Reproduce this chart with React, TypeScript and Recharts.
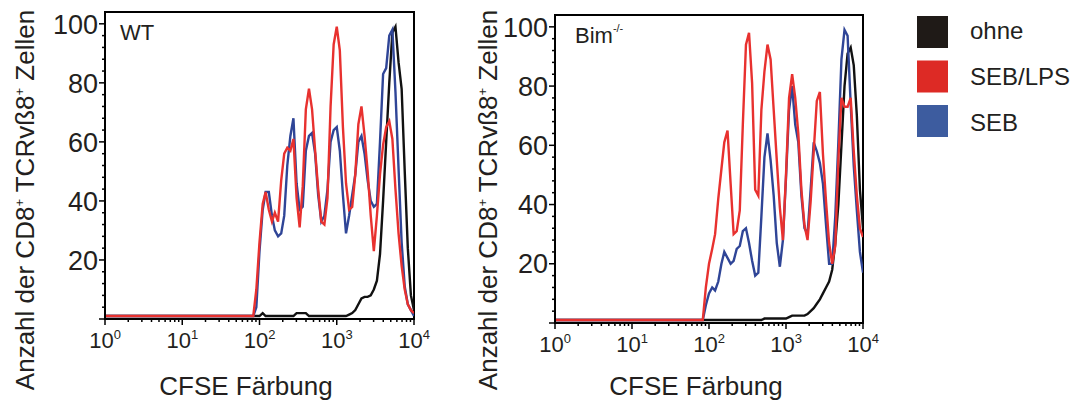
import { LineChart, Line, XAxis, YAxis, ReferenceArea } from 'recharts';

// CFSE channel (log scale), shared by both panels
const channels = [
  1, 83, 91, 100, 110, 120, 132, 145, 158, 174, 191, 209, 229, 251, 275, 302, 331, 363, 398,
  437, 479, 525, 575, 631, 692, 759, 832, 912, 1000, 1096, 1202, 1318, 1445, 1585, 1738, 1905,
  2089, 2291, 2512, 2754, 3020, 3311, 3631, 3981, 4365, 4786, 5248, 5754, 6310, 6918, 7586,
  8318, 9120, 10000,
];

// WT panel
const wtOhne = [
  1, 1, 1, 1, 2, 1, 1, 1, 1, 1, 1, 1, 1, 1, 1, 2, 2, 2, 2, 1, 1, 1, 1, 1, 1, 1, 1, 1, 1, 1,
  1, 1, 1.5, 2, 3, 5, 7, 7.5, 7.5, 8, 10, 13, 22, 40, 60, 80, 97, 99, 87, 78, 50, 24, 8, 3,
];
const wtSebLps = [
  1, 1, 10, 26, 39, 43, 37, 33, 36, 33, 47, 56, 58, 57, 61, 41, 31, 45, 71, 78, 71, 57, 44,
  33, 32, 41, 72, 93, 99, 91, 65, 46, 37, 38, 49, 66, 72, 62, 50, 35, 23, 35, 49, 59, 65, 67,
  61, 44, 29, 18, 10, 5, 3, 2,
];
const wtSeb = [
  1, 1, 4, 23, 37, 43, 43, 35, 30, 28, 29, 35, 52, 62, 68, 46, 37, 38, 57, 62, 63, 56, 42,
  33, 35, 44, 60, 64, 65, 57, 42, 29, 35, 42, 49, 60, 62, 56, 47, 40, 38, 39, 60, 83, 85, 96,
  98, 77, 51, 26, 11, 5, 3, 1,
];

// Bim-/- panel
const bimOhne = [
  1, 1, 1, 1, 1, 1, 1, 1, 1, 1, 1, 1, 1, 1, 1, 1, 1, 1, 1, 1, 1, 1.5, 1.5, 1.5, 1.5, 1.5,
  1.5, 1.5, 1.5, 2, 2.5, 2.5, 2.5, 2.5, 2.5, 3, 4, 5, 6.5, 8, 10, 12, 14, 18, 27, 40, 60, 80,
  91, 93, 87, 70, 45, 32,
];
const bimSebLps = [
  1, 1, 12, 20, 25, 30, 42, 52, 61, 65, 47, 30, 31, 38, 67, 94, 98, 81, 45, 43, 72, 85, 94,
  89, 72, 55, 39, 28, 50, 76, 84, 76, 64, 45, 33, 28, 41, 58, 75, 78, 57, 41, 27, 20, 26, 55,
  76, 73, 73, 76, 58, 43, 32, 29,
];
const bimSeb = [
  1, 1, 6, 10, 12, 11, 14, 20, 24, 22, 20, 21, 25, 26, 31, 32, 27, 21, 16, 17, 36, 56, 64,
  55, 43, 27, 19, 28, 49, 72, 80, 67, 61, 43, 32, 30, 45, 61, 58, 54, 47, 33, 20, 20, 36, 61,
  89, 99, 97, 74, 53, 38, 24, 17,
];

const xTicks = [
  1, 2, 3, 4, 5, 6, 7, 8, 9, 10, 20, 30, 40, 50, 60, 70, 80, 90, 100, 200, 300, 400, 500, 600,
  700, 800, 900, 1000, 2000, 3000, 4000, 5000, 6000, 7000, 8000, 9000, 10000,
];
const xMajor = [1, 10, 100, 1000, 10000];
const yTicks = [
  0, 4, 8, 12, 16, 20, 24, 28, 32, 36, 40, 44, 48, 52, 56, 60, 64, 68, 72, 76, 80, 84, 88, 92,
  96, 100,
];
const yMajor = [0, 20, 40, 60, 80, 100];

const legendItems = [
  { name: 'ohne', color: '#1f1a17' },
  { name: 'SEB/LPS', color: '#dd2a25' },
  { name: 'SEB', color: '#3d5c9f' },
];

const FONT = '"Liberation Sans", Arial, sans-serif';
const INK = '#231f20';

const toRows = (ohne: number[], sebLps: number[], seb: number[]) =>
  channels.map((x, i) => ({ x, ohne: ohne[i], sebLps: sebLps[i], seb: seb[i] }));

const XTick = (props: any) => {
  const { x, y, payload } = props;
  const exp = xMajor.indexOf(payload.value);
  const major = exp >= 0;
  return (
    <g>
      <line x1={x} x2={x} y1={y} y2={y + (major ? 6 : 3)} stroke="#000" strokeWidth={1.5} />
      {major && (
        <text x={x} y={y + 29} textAnchor="middle" fontSize={22} fill={INK} fontFamily={FONT}>
          10
          <tspan dy={-9} fontSize={13}>
            {exp}
          </tspan>
        </text>
      )}
    </g>
  );
};

const YTick = (props: any) => {
  const { x, y, payload } = props;
  const major = yMajor.includes(payload.value);
  return (
    <g>
      <line x1={x - (major ? 6 : 3)} x2={x} y1={y} y2={y} stroke="#000" strokeWidth={1.5} />
      {major && payload.value > 0 && (
        <text x={x - 7} y={y} dy="0.36em" textAnchor="end" fontSize={27} fill={INK} fontFamily={FONT}>
          {payload.value}
        </text>
      )}
    </g>
  );
};

const Panel = ({ rows, top, bottom, right }: { rows: any[]; top: number; bottom: number; right: number }) => (
  <LineChart width={440} height={401} data={rows} margin={{ top, right, bottom, left: 0 }}>
    <XAxis
      dataKey="x"
      type="number"
      scale="log"
      domain={[1, 10000]}
      allowDataOverflow
      ticks={xTicks}
      interval={0}
      tick={XTick}
      tickLine={false}
      tickSize={0}
      tickMargin={0}
      height={40}
      axisLine={{ stroke: '#000', strokeWidth: 2 }}
    />
    <YAxis
      type="number"
      domain={[0, 104]}
      allowDataOverflow
      ticks={yTicks}
      interval={0}
      tick={YTick}
      tickLine={false}
      tickSize={0}
      tickMargin={0}
      width={105}
      axisLine={{ stroke: '#000', strokeWidth: 2 }}
    />
    <ReferenceArea x1={1} x2={10000} y1={0} y2={104} fill="none" stroke="#000" strokeWidth={2} />
    <Line type="linear" dataKey="ohne" stroke="#111111" strokeWidth={2.4} dot={false} isAnimationActive={false} />
    <Line type="linear" dataKey="seb" stroke="#2f4597" strokeWidth={2.4} dot={false} isAnimationActive={false} />
    <Line type="linear" dataKey="sebLps" stroke="#e8312f" strokeWidth={2.4} dot={false} isAnimationActive={false} />
  </LineChart>
);

const YTitle = ({ x }: { x: number }) => (
  <text transform={`translate(${x},200) rotate(-90)`} textAnchor="middle" fontSize={26} fill={INK}>
    Anzahl der CD8
    <tspan dy={-10} fontSize={13}>+</tspan>
    <tspan dy={10}> TCRvß8</tspan>
    <tspan dy={-10} fontSize={13}>+</tspan>
    <tspan dy={10}> Zellen</tspan>
  </text>
);

const App = () => {
  const wtRows = toRows(wtOhne, wtSebLps, wtSeb);
  const bimRows = toRows(bimOhne, bimSebLps, bimSeb);
  return (
    <div style={{ position: 'absolute', left: 0, top: 0, width: 1088, height: 401, background: '#fff', fontFamily: FONT }}>
      <div style={{ position: 'absolute', left: 0, top: 0 }}>
        <Panel rows={wtRows} top={12} bottom={42} right={26} />
      </div>
      <div style={{ position: 'absolute', left: 450, top: 0 }}>
        <Panel rows={bimRows} top={15} bottom={38} right={27} />
      </div>
      <svg width={1088} height={401} style={{ position: 'absolute', left: 0, top: 0, pointerEvents: 'none' }} fontFamily={FONT}>
        <YTitle x={34} />
        <YTitle x={497} />
        <text x={246} y={395} textAnchor="middle" fontSize={26} fill={INK}>CFSE Färbung</text>
        <text x={696} y={395} textAnchor="middle" fontSize={26} fill={INK}>CFSE Färbung</text>
        <text x={120} y={40} fontSize={22} fill={INK}>WT</text>
        <text x={575} y={43} fontSize={22} fill={INK}>
          Bim
          <tspan dy={-11} fontSize={11}>-/-</tspan>
        </text>
        {legendItems.map((item, i) => (
          <g key={item.name}>
            <rect x={917} y={16 + i * 44.5} width={31} height={32} fill={item.color} />
            <text x={970} y={39 + i * 46} fontSize={24} fill={INK}>{item.name}</text>
          </g>
        ))}
      </svg>
    </div>
  );
};

export default App;
